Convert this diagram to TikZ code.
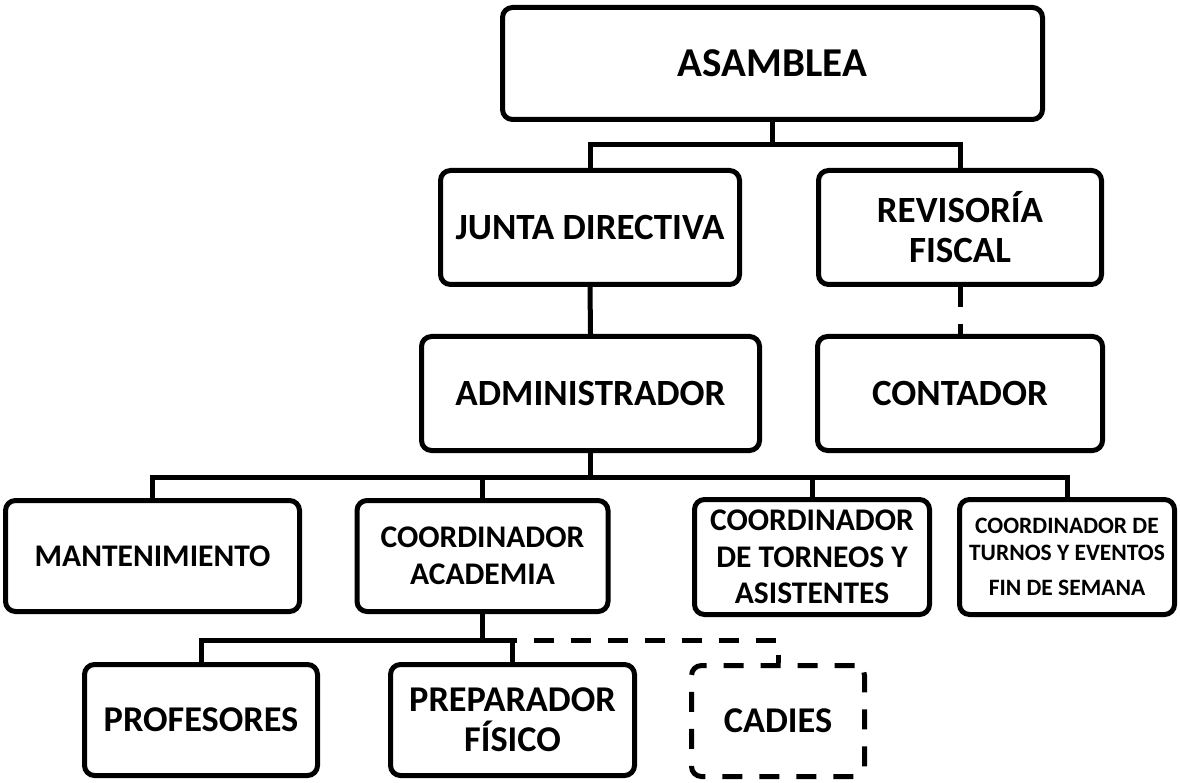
\documentclass[tikz,border=0pt]{standalone}
\usepackage{fontspec}
\setmainfont{Carlito}
\usetikzlibrary{calc}
\tikzset{
  orgbox/.style={draw, line width=5pt, rounded corners=10pt, inner sep=0pt, align=center, fill=white},
  dashbox/.style={orgbox, dash pattern=on 20pt off 17pt},
  conn/.style={line width=5pt},
  dconn/.style={line width=5pt, dash pattern=on 20pt off 17pt},
  fbig/.style={font=\fontsize{41}{46}\selectfont\bfseries},
  fmed/.style={font=\fontsize{37}{40}\selectfont\bfseries},
  fsm/.style={font=\fontsize{31.5}{36.5}\selectfont\bfseries},
  ftiny/.style={font=\fontsize{23.5}{27}\selectfont\bfseries},
  flow/.style={font=\fontsize{36.3}{40}\selectfont\bfseries},
}
\begin{document}
\begin{tikzpicture}[x=1pt,y=-1pt]
\useasboundingbox[fill=white] (0,0) rectangle (1180,783);
% nodes
\node[orgbox,fbig,minimum width=540,minimum height=112] (asm) at (772.5,63.5) {ASAMBLEA};
\node[orgbox,fmed,minimum width=299,minimum height=114] (junta) at (590,227.5) {JUNTA DIRECTIVA};
\node[orgbox,fmed,minimum width=283,minimum height=114] (rev) at (960,227.5) {REVISORÍA\\FISCAL};
\node[orgbox,fmed,minimum width=338,minimum height=114] (admin) at (590.5,393.5) {ADMINISTRADOR};
\node[orgbox,fmed,minimum width=285,minimum height=114] (cont) at (960,393.5) {CONTADOR};
\node[orgbox,fsm,minimum width=294,minimum height=111] (mant) at (152.5,556) {MANTENIMIENTO};
\node[orgbox,fsm,minimum width=251,minimum height=111] (acad) at (482.5,556) {COORDINADOR\\ACADEMIA};
\node[orgbox,fsm,minimum width=235,minimum height=115] (torn) at (812,557) {COORDINADOR\\DE TORNEOS Y\\ASISTENTES};
\node[orgbox,ftiny,minimum width=215,minimum height=115] (turn) at (1067,557) {COORDINADOR DE\\TURNOS Y EVENTOS\\[8pt]FIN DE SEMANA};
\node[orgbox,flow,minimum width=233,minimum height=111] (prof) at (201,720) {PROFESORES};
\node[orgbox,flow,minimum width=244,minimum height=111] (prep) at (512.5,720) {PREPARADOR\\FÍSICO};
\node[dashbox,flow,minimum width=173,minimum height=111] (cad) at (778,721) {CADIES};
% junction coordinates
\coordinate (j1) at (772.5,145);
\coordinate (j2) at (590.5,477);
\coordinate (j3) at (482.5,640);
\coordinate (j4) at (512.5,640);
% connectors
\draw[conn] (asm.south) -- (j1);
\draw[conn] (junta.north) |- (j1) -| (rev.north);
\draw[conn] (junta.south) -- (admin.north);
\draw[dconn] (rev.south) -- (cont.north);
\draw[conn] (admin.south) -- (j2);
\draw[conn] (mant.north) |- (j2) -| (turn.north);
\draw[conn] (acad.north) -- (acad.north |- j2);
\draw[conn] (torn.north) -- (torn.north |- j2);
\draw[conn] (acad.south) -- (j3) -| (prof.north);
\draw[conn] (j3) -- (j4) -- (prep.north);
\draw[dconn, dash phase=16pt] (j4) -| (cad.north);
\end{tikzpicture}
\end{document}
